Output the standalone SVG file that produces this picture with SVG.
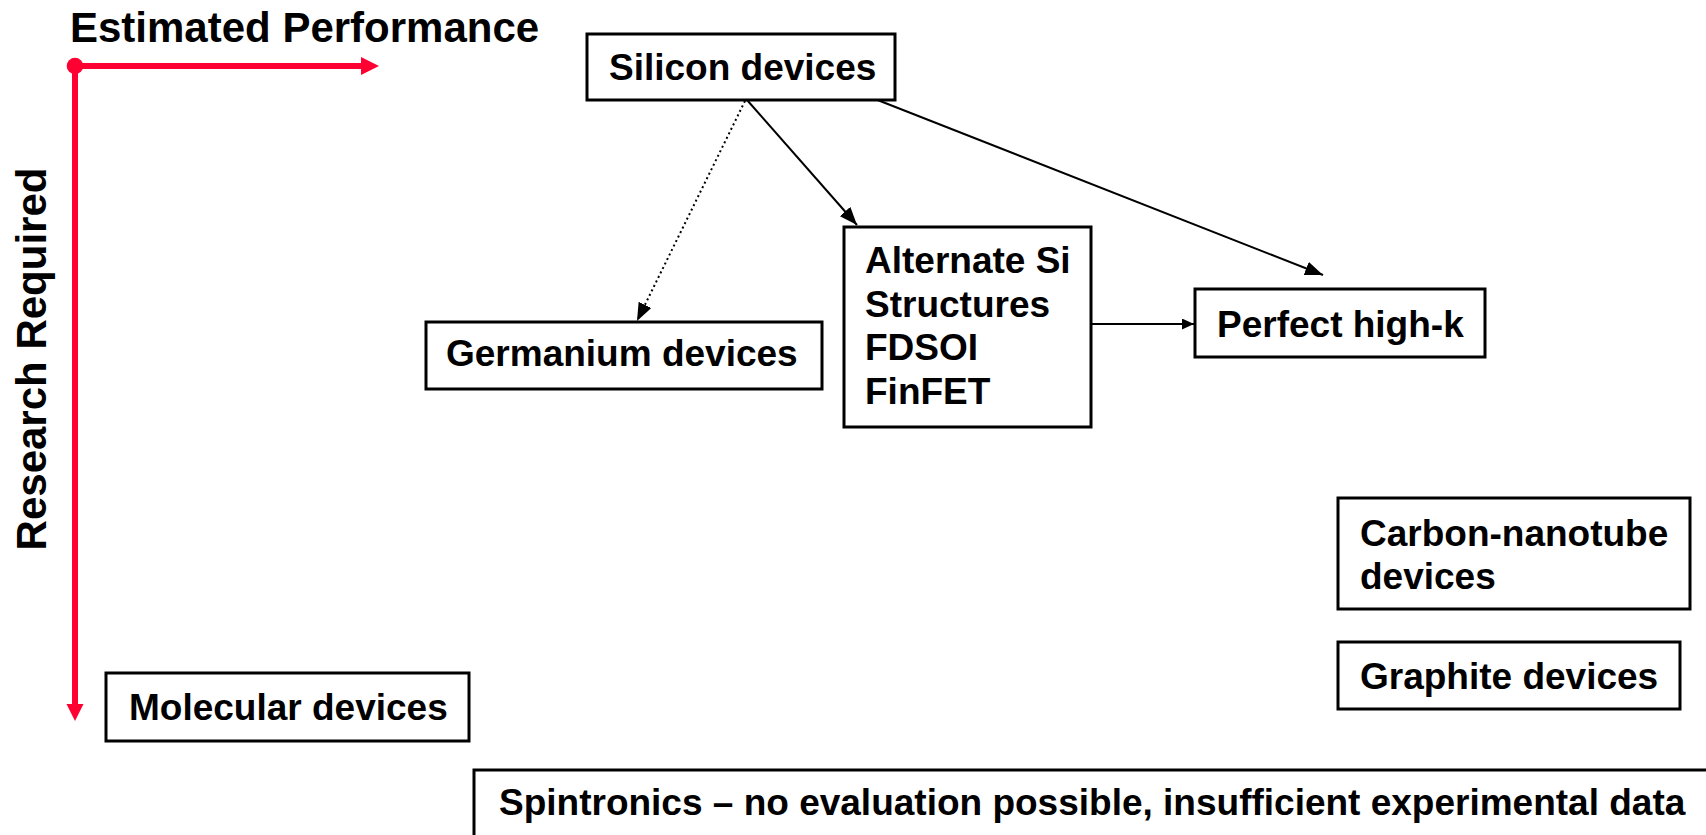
<svg xmlns="http://www.w3.org/2000/svg" width="1706" height="835" viewBox="0 0 1706 835">
  <style>
    .box { fill: #ffffff; stroke: #000000; stroke-width: 3; }
    .lbl { font-family: "Liberation Sans", Arial, sans-serif; font-weight: bold; font-size: 37px; fill: #000000; }
    .axis-lbl { font-family: "Liberation Sans", Arial, sans-serif; font-weight: bold; font-size: 42px; fill: #000000; }
    .conn { fill: none; stroke: #000000; stroke-width: 2; }
    .dotted { stroke-dasharray: 2 3; }
    .axis { stroke: #ff0033; stroke-width: 6; fill: none; }
  </style>
  <defs>
    <marker id="big" markerUnits="userSpaceOnUse" markerWidth="18" markerHeight="14" refX="18" refY="7" orient="auto">
      <path d="M0,0 L18,7 L0,14 z" fill="#000000"/>
    </marker>
    <marker id="small" markerUnits="userSpaceOnUse" markerWidth="12" markerHeight="11" refX="12" refY="5.5" orient="auto">
      <path d="M0,0 L12,5.5 L0,11 z" fill="#000000"/>
    </marker>
  </defs>
  <rect width="1706" height="835" fill="#ffffff"/>

  <g id="axes">
    <line class="axis" x1="75" y1="66" x2="362" y2="66"/>
    <polygon points="361,57 379,66 361,75" fill="#ff0033"/>
    <line class="axis" x1="75" y1="66" x2="75" y2="705"/>
    <polygon points="66.5,704 83.5,704 75,721" fill="#ff0033"/>
    <circle cx="75" cy="66" r="8.3" fill="#ff0033"/>
    <text class="axis-lbl" x="70" y="42">Estimated Performance</text>
    <text class="axis-lbl" text-anchor="middle" transform="translate(46,359) rotate(-90)">Research Required</text>
  </g>

  <g id="connectors">
    <line class="conn" x1="747" y1="100" x2="857" y2="225" marker-end="url(#big)"/>
    <line class="conn dotted" x1="745" y1="101" x2="637" y2="321" marker-end="url(#big)"/>
    <line class="conn" x1="875" y1="99" x2="1323" y2="275" marker-end="url(#big)"/>
    <line class="conn" x1="1091" y1="324" x2="1194" y2="324" marker-end="url(#small)"/>
  </g>

  <g id="silicon">
    <rect class="box" x="587" y="34" width="308" height="66"/>
    <text class="lbl" x="609" y="80">Silicon devices</text>
  </g>
  <g id="germanium">
    <rect class="box" x="426" y="322" width="396" height="67"/>
    <text class="lbl" x="446" y="366">Germanium devices</text>
  </g>
  <g id="alternate">
    <rect class="box" x="844" y="227" width="247" height="200"/>
    <text class="lbl" x="865" y="273">Alternate Si</text>
    <text class="lbl" x="865" y="317">Structures</text>
    <text class="lbl" x="865" y="360">FDSOI</text>
    <text class="lbl" x="865" y="404">FinFET</text>
  </g>
  <g id="perfect">
    <rect class="box" x="1195" y="289" width="290" height="68"/>
    <text class="lbl" x="1217" y="337">Perfect high-k</text>
  </g>
  <g id="carbon">
    <rect class="box" x="1338" y="498" width="352" height="111"/>
    <text class="lbl" x="1360" y="546">Carbon-nanotube</text>
    <text class="lbl" x="1360" y="589">devices</text>
  </g>
  <g id="graphite">
    <rect class="box" x="1338" y="642" width="342" height="67"/>
    <text class="lbl" x="1360" y="689">Graphite devices</text>
  </g>
  <g id="molecular">
    <rect class="box" x="106" y="673" width="363" height="68"/>
    <text class="lbl" x="129" y="720">Molecular devices</text>
  </g>
  <g id="spintronics">
    <rect class="box" x="474" y="770" width="1240" height="72"/>
    <text class="lbl" x="499" y="815">Spintronics – no evaluation possible, insufficient experimental data</text>
  </g>
</svg>
